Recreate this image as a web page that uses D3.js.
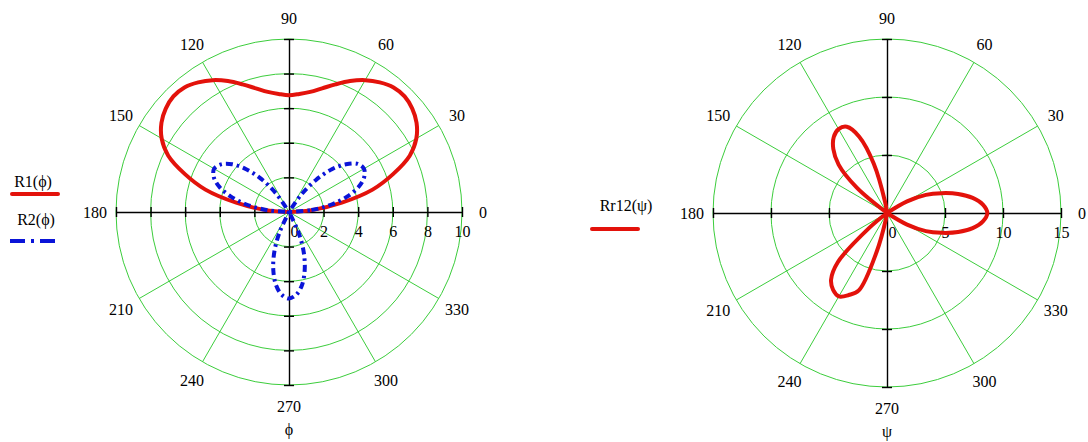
<!DOCTYPE html>
<html>
<head>
<meta charset="utf-8">
<script src="https://cdn.jsdelivr.net/npm/d3@7/dist/d3.min.js"></script>
<style>
  html, body { margin: 0; padding: 0; background: #fff; }
  svg text { font-family: "Liberation Serif", "Times New Roman", serif; font-size: 16px; fill: #000; }
</style>
</head>
<body>
<svg id="chart" width="1088" height="442"></svg>
<script>
// Angle grids (degrees) for the sampled patterns
const phiHalf = d3.range(0, 185, 5);     // 0..180
const phiFull = d3.range(0, 360, 5);     // 0..355
const psiFull = d3.range(0, 360, 5);     // 0..355

// R1(phi): upper-half pattern
const r1Values = [0, 1.4, 3.1, 5.0, 6.4, 7.7, 8.5, 9.0, 9.3, 9.45, 9.4, 9.15, 8.8, 8.35, 7.85, 7.4, 7.05, 6.85, 6.75,
                  6.85, 7.05, 7.4, 7.85, 8.35, 8.8, 9.15, 9.4, 9.45, 9.3, 9.0, 8.5, 7.7, 6.4, 5.0, 3.1, 1.4, 0];

// R2(phi): three lobes at 30, 150, 270 degrees
const r2Values = [0, 1.3, 2.5, 3.5, 4.3, 4.8, 5.0, 4.85, 4.3, 3.5, 2.4, 1.2,
                  0, 0, 0, 0, 0, 0, 0, 0, 0, 0, 0, 0,
                  0, 1.3, 2.5, 3.5, 4.3, 4.8, 5.0, 4.8, 4.3, 3.5, 2.5, 1.3,
                  0, 0, 0, 0, 0, 0, 0, 0, 0, 0, 0, 0,
                  0, 1.3, 2.5, 3.5, 4.3, 4.8, 5.0, 4.8, 4.3, 3.5, 2.5, 1.3,
                  0, 0, 0, 0, 0, 0, 0, 0, 0, 0, 0, 0];

// Rr12(psi): three lobes at 0, 120, 240 degrees
const rr12Values = [8.65, 8.3, 7.5, 6.35, 5.0, 3.7, 2.0, 0,
                    0, 0, 0, 0, 0, 0, 0, 0, 0, 0, 0, 0,
                    1.0, 4.4, 7.0, 8.2, 8.35, 8.0, 7.2, 5.9, 3.4, 0,
                    0, 0, 0, 0, 0, 0, 0, 0, 0, 0, 0, 0, 0, 0,
                    2.0, 6.0, 7.5, 8.1, 8.3, 7.8, 7.1, 3.5, 0.5, 0,
                    0, 0, 0, 0, 0, 0, 0, 0, 0, 0, 0, 0,
                    2.0, 3.7, 5.0, 6.35, 7.5, 8.3];

// Axis tick values
const angleLabels = [0, 30, 60, 90, 120, 150, 180, 210, 240, 270, 300, 330];
const leftTicks = [2, 4, 6, 8, 10];
const rightTicks = [5, 10, 15];

const svg = d3.select("#chart");
const gridColor = "#3ccd3c";
const red = "#e3120b";
const blue = "#0a14d8";

function polarPanel(opt) {
  const g = svg.append("g").attr("transform", `translate(${opt.cx},${opt.cy})`);
  const R = opt.radius;
  const r = d3.scaleLinear().domain([0, opt.max]).range([0, R]);
  const ang = d3.scaleLinear().domain([0, 360]).range([Math.PI / 2, Math.PI / 2 - 2 * Math.PI]);

  // concentric grid circles
  g.selectAll("circle.grid").data(opt.ticks).join("circle")
    .attr("r", d => r(d)).attr("fill", "none")
    .attr("stroke", gridColor).attr("stroke-width", 1);

  // radial spokes every 30 degrees
  g.selectAll("line.spoke").data(angleLabels.filter(a => a % 90 !== 0)).join("line")
    .attr("x1", 0).attr("y1", 0)
    .attr("x2", d => R * Math.cos(d * Math.PI / 180))
    .attr("y2", d => -R * Math.sin(d * Math.PI / 180))
    .attr("stroke", gridColor).attr("stroke-width", 1);

  // horizontal axis with ticks through the centre
  const xs = d3.scaleLinear().domain([-opt.max, opt.max]).range([-R, R]);
  const allTicks = [...opt.ticks.map(t => -t).reverse(), 0, ...opt.ticks];
  const xAxis = g.append("g").call(
    d3.axisBottom(xs).tickValues(allTicks).tickSizeInner(5).tickSizeOuter(0)
      .tickFormat(d => d >= 0 ? d3.format("d")(d) : ""));
  xAxis.select(".domain").attr("stroke", "#000").attr("stroke-width", 1.4);
  xAxis.selectAll(".tick line").attr("y1", -5).attr("y2", 5)
    .attr("stroke", "#000").attr("stroke-width", 1.4)
    .attr("display", d => d === 0 ? "none" : null);
  xAxis.selectAll(".tick text").attr("y", 14).attr("dy", "0.71em")
    .attr("dx", d => d === 0 ? 5 : 0)
    .style("font-family", "'Liberation Serif', 'Times New Roman', serif").style("font-size", "16px");

  const ys = d3.scaleLinear().domain([-opt.max, opt.max]).range([R, -R]);
  const yAxis = g.append("g").call(
    d3.axisLeft(ys).tickValues(allTicks.filter(d => d !== 0)).tickSizeInner(5).tickSizeOuter(0).tickFormat(""));
  yAxis.select(".domain").attr("stroke", "#000").attr("stroke-width", 1.4);
  yAxis.selectAll(".tick line").attr("x1", -5).attr("x2", 5)
    .attr("stroke", "#000").attr("stroke-width", 1.4);

  // angle labels around the rim
  g.selectAll("text.ang").data(angleLabels).join("text")
    .attr("x", d => (R + 21) * Math.cos(d * Math.PI / 180))
    .attr("y", d => -(R + 21) * Math.sin(d * Math.PI / 180))
    .attr("text-anchor", "middle").attr("dominant-baseline", "central")
    .text(d => d);

  // variable name under the chart
  g.append("text").attr("x", 0).attr("y", R + 44)
    .attr("text-anchor", "middle").attr("dominant-baseline", "central")
    .text(opt.varName);

  // pattern curves
  opt.series.forEach(s => {
    const pts = s.angles.map((a, i) => ({ a, v: s.values[i] }));
    const line = d3.lineRadial()
      .angle(d => ang(d.a))
      .radius(d => r(d.v))
      .curve(s.closed ? d3.curveCatmullRomClosed.alpha(0.5) : d3.curveCatmullRom.alpha(0.5));
    g.append("path").attr("d", line(pts))
      .attr("fill", "none").attr("stroke", s.color).attr("stroke-width", 4)
      .attr("stroke-linejoin", "round")
      .attr("stroke-linecap", s.dash ? "butt" : "round")
      .attr("stroke-dasharray", s.dash || null);
  });
}

polarPanel({
  cx: 289, cy: 212, radius: 173, max: 10, ticks: leftTicks, varName: "ϕ",
  series: [
    { angles: phiHalf, values: r1Values, color: red, closed: false },
    { angles: phiFull, values: r2Values, color: blue, closed: true, dash: "7,4,2.5,4" }
  ]
});

polarPanel({
  cx: 887, cy: 213, radius: 174, max: 15, ticks: rightTicks, varName: "ψ",
  series: [
    { angles: psiFull, values: rr12Values, color: red, closed: true }
  ]
});

// legends
const legend = svg.append("g");
legend.append("text").attr("x", 33).attr("y", 181).attr("text-anchor", "middle")
  .attr("dominant-baseline", "central").text("R1(ϕ)");
legend.append("line").attr("x1", 12).attr("x2", 58).attr("y1", 194).attr("y2", 194)
  .attr("stroke", red).attr("stroke-width", 4).attr("stroke-linecap", "round");
legend.append("text").attr("x", 36).attr("y", 219).attr("text-anchor", "middle")
  .attr("dominant-baseline", "central").text("R2(ϕ)");
legend.append("line").attr("x1", 10).attr("x2", 58).attr("y1", 241).attr("y2", 241)
  .attr("stroke", blue).attr("stroke-width", 4).attr("stroke-dasharray", "15,6,3,6");

legend.append("text").attr("x", 626).attr("y", 205).attr("text-anchor", "middle")
  .attr("dominant-baseline", "central").text("Rr12(ψ)");
legend.append("line").attr("x1", 592).attr("x2", 638).attr("y1", 229).attr("y2", 229)
  .attr("stroke", red).attr("stroke-width", 4).attr("stroke-linecap", "round");
</script>
</body>
</html>
